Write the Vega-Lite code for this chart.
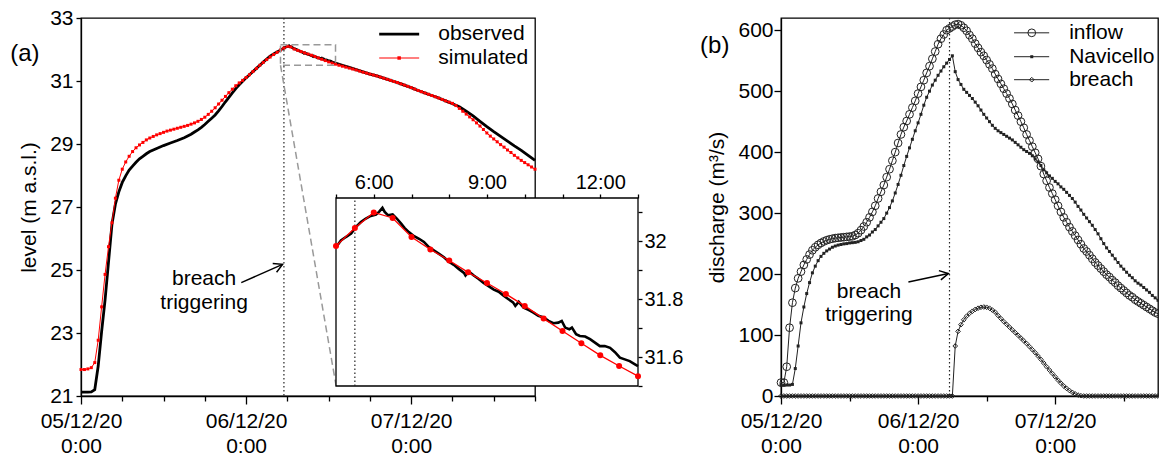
{
"$schema":"https://vega.github.io/schema/vega-lite/v6.json",
"padding":{"left":9,"top":6,"right":0,"bottom":0},
"background":"white",
"spacing":15,
"config":{
 "font":"Liberation Sans",
 "view":{"stroke":"black","strokeWidth":1.3},
 "axis":{"grid":false,"domainColor":"black","domainWidth":1.3,"tickColor":"black","tickWidth":1.3,"labelFont":"Liberation Sans","labelFontSize":21,"labelColor":"black","labelFlush":false,"labelOverlap":false,"labelBound":false,"titleFont":"Liberation Sans","titleFontSize":21,"titleFontWeight":"normal","titleColor":"black"},
 "text":{"font":"Liberation Sans","fontSize":21,"color":"black"}
},
"datasets":{
 "obs":[{"t":0,"v":21.12},{"t":1,"v":21.12},{"t":1.5,"v":21.13},{"t":2,"v":21.2},{"t":2.5,"v":21.95},{"t":3,"v":23.05},{"t":3.5,"v":24.05},{"t":4,"v":25.25},{"t":4.5,"v":26.45},{"t":5,"v":27.09},{"t":5.5,"v":27.48},{"t":6,"v":27.78},{"t":6.5,"v":27.99},{"t":7,"v":28.17},{"t":7.5,"v":28.3},{"t":8,"v":28.42},{"t":8.5,"v":28.53},{"t":9,"v":28.61},{"t":9.5,"v":28.69},{"t":10,"v":28.76},{"t":11,"v":28.86},{"t":12,"v":28.95},{"t":13,"v":29.03},{"t":14,"v":29.11},{"t":15,"v":29.2},{"t":16,"v":29.31},{"t":16.5,"v":29.38},{"t":17,"v":29.45},{"t":17.5,"v":29.53},{"t":18,"v":29.62},{"t":18.5,"v":29.72},{"t":19,"v":29.82},{"t":19.5,"v":29.92},{"t":20,"v":30.05},{"t":20.5,"v":30.19},{"t":21,"v":30.34},{"t":21.5,"v":30.48},{"t":22,"v":30.62},{"t":22.5,"v":30.76},{"t":23,"v":30.88},{"t":23.5,"v":30.99},{"t":24,"v":31.1},{"t":24.5,"v":31.2},{"t":25,"v":31.3},{"t":25.5,"v":31.4},{"t":26,"v":31.5},{"t":26.5,"v":31.6},{"t":27,"v":31.7},{"t":27.5,"v":31.79},{"t":28,"v":31.86},{"t":28.5,"v":31.92},
 {"t":29,"v":31.98},{"t":29.13,"v":32.003},{"t":29.26,"v":32.015},{"t":29.4,"v":32.027},{"t":29.53,"v":32.05},{"t":29.66,"v":32.067},{"t":29.79,"v":32.079},{"t":29.92,"v":32.088},{"t":30.06,"v":32.093},{"t":30.14,"v":32.102},{"t":30.23,"v":32.116},{"t":30.29,"v":32.102},{"t":30.38,"v":32.09},{"t":30.5,"v":32.093},{"t":30.61,"v":32.079},{"t":30.72,"v":32.062},{"t":30.82,"v":32.046},{"t":30.93,"v":32.032},{"t":31.07,"v":32.018},{"t":31.2,"v":32.009},{"t":31.33,"v":31.998},{"t":31.46,"v":31.98},{"t":31.59,"v":31.969},{"t":31.73,"v":31.957},{"t":31.86,"v":31.945},{"t":31.99,"v":31.93},{"t":32.12,"v":31.919},{"t":32.25,"v":31.905},{"t":32.39,"v":31.891},{"t":32.43,"v":31.882},{"t":32.52,"v":31.896},{"t":32.65,"v":31.882},{"t":32.78,"v":31.87},{"t":32.91,"v":31.856},{"t":33.04,"v":31.845},{"t":33.18,"v":31.833},{"t":33.31,"v":31.826},{"t":33.44,"v":31.812},{"t":33.57,"v":31.8},{"t":33.69,"v":31.789},{"t":33.75,"v":31.777},{"t":33.84,"v":31.791},{"t":33.97,"v":31.771},{"t":34.1,"v":31.763},{"t":34.23,"v":31.754},{"t":34.36,"v":31.743},{"t":34.5,"v":31.737},{"t":34.63,"v":31.725},{"t":34.76,"v":31.717},{"t":34.89,"v":31.719},{"t":34.98,"v":31.725},{"t":35.07,"v":31.702},{"t":35.18,"v":31.696},{"t":35.25,"v":31.702},{"t":35.36,"v":31.679},{"t":35.46,"v":31.673},{"t":35.6,"v":31.671},{"t":35.73,"v":31.662},{"t":35.86,"v":31.65},{"t":35.99,"v":31.638},{"t":36.12,"v":31.638},{"t":36.26,"v":31.632},{"t":36.39,"v":31.617},{"t":36.52,"v":31.598},{"t":36.65,"v":31.592},{"t":36.78,"v":31.586},{"t":36.92,"v":31.575},{"t":37,"v":31.569},
 {"t":38,"v":31.5},{"t":39,"v":31.43},{"t":40,"v":31.36},{"t":41,"v":31.29},{"t":42,"v":31.22},{"t":43,"v":31.16},{"t":44,"v":31.09},{"t":45,"v":31.02},{"t":46,"v":30.95},{"t":47,"v":30.87},{"t":48,"v":30.79},{"t":49,"v":30.7},{"t":50,"v":30.62},{"t":51,"v":30.54},{"t":52,"v":30.46},{"t":53,"v":30.37},{"t":54,"v":30.28},{"t":55,"v":30.18},{"t":56,"v":30.04},{"t":57,"v":29.89},{"t":58,"v":29.72},{"t":59,"v":29.55},{"t":60,"v":29.39},{"t":61,"v":29.24},{"t":62,"v":29.09},{"t":63,"v":28.94},{"t":64,"v":28.8},{"t":65,"v":28.64},{"t":66,"v":28.48}],
 "sim":[{"t":0,"v":21.84},{"t":0.5,"v":21.84},{"t":1,"v":21.86},{"t":1.5,"v":21.9},{"t":2,"v":22.06},{"t":2.5,"v":22.77},{"t":3,"v":23.83},{"t":3.5,"v":24.86},{"t":4,"v":25.74},{"t":4.5,"v":26.5},{"t":5,"v":27.28},{"t":5.5,"v":27.85},{"t":6,"v":28.2},{"t":6.5,"v":28.43},{"t":7,"v":28.61},{"t":7.5,"v":28.76},{"t":8,"v":28.88},{"t":8.5,"v":28.97},{"t":9,"v":29.05},{"t":9.5,"v":29.13},{"t":10,"v":29.19},{"t":10.5,"v":29.24},{"t":11,"v":29.29},{"t":11.5,"v":29.33},{"t":12,"v":29.37},{"t":12.5,"v":29.41},{"t":13,"v":29.44},{"t":13.5,"v":29.47},{"t":14,"v":29.5},{"t":14.5,"v":29.53},{"t":15,"v":29.56},{"t":15.5,"v":29.59},{"t":16,"v":29.63},{"t":16.5,"v":29.67},{"t":17,"v":29.72},{"t":17.5,"v":29.78},{"t":18,"v":29.85},{"t":18.5,"v":29.94},{"t":19,"v":30.04},{"t":19.5,"v":30.15},{"t":20,"v":30.27},{"t":20.5,"v":30.39},{"t":21,"v":30.51},{"t":21.5,"v":30.63},{"t":22,"v":30.74},{"t":22.5,"v":30.85},{"t":23,"v":30.94},{"t":23.5,"v":31.02},{"t":24,"v":31.11},{"t":24.5,"v":31.2},{"t":25,"v":31.3},{"t":25.5,"v":31.4},{"t":26,"v":31.5},{"t":26.5,"v":31.59},{"t":27,"v":31.68},{"t":27.5,"v":31.76},{"t":28,"v":31.84},{"t":28.5,"v":31.91},{"t":29,"v":31.984},{"t":29.5,"v":32.046},{"t":30,"v":32.1},{"t":30.5,"v":32.081},{"t":31,"v":32.015},{"t":31.5,"v":31.972},{"t":32,"v":31.934},{"t":32.5,"v":31.893},{"t":33,"v":31.856},{"t":33.5,"v":31.818},{"t":34,"v":31.777},{"t":34.5,"v":31.733},{"t":35,"v":31.69},{"t":35.5,"v":31.648},{"t":36,"v":31.606},{"t":36.5,"v":31.569},{"t":37,"v":31.534},{"t":37.5,"v":31.5},{"t":38,"v":31.47},{"t":38.5,"v":31.44},{"t":39,"v":31.41},{"t":39.5,"v":31.38},{"t":40,"v":31.35},{"t":40.5,"v":31.315},{"t":41,"v":31.28},{"t":41.5,"v":31.25},{"t":42,"v":31.22},{"t":42.5,"v":31.19},{"t":43,"v":31.16},{"t":43.5,"v":31.125},{"t":44,"v":31.09},{"t":44.5,"v":31.055},{"t":45,"v":31.02},{"t":45.5,"v":30.985},{"t":46,"v":30.95},{"t":46.5,"v":30.91},{"t":47,"v":30.87},{"t":47.5,"v":30.83},{"t":48,"v":30.79},{"t":48.5,"v":30.745},{"t":49,"v":30.7},{"t":49.5,"v":30.66},{"t":50,"v":30.62},{"t":50.5,"v":30.58},{"t":51,"v":30.54},{"t":51.5,"v":30.5},{"t":52,"v":30.46},{"t":52.5,"v":30.415},{"t":53,"v":30.37},{"t":53.5,"v":30.33},{"t":54,"v":30.29},{"t":54.5,"v":30.22},{"t":55,"v":30.13},{"t":55.5,"v":30.04},{"t":56,"v":29.95},{"t":56.5,"v":29.86},{"t":57,"v":29.77},{"t":57.5,"v":29.67},{"t":58,"v":29.57},{"t":58.5,"v":29.46},{"t":59,"v":29.35},{"t":59.5,"v":29.25},{"t":60,"v":29.16},{"t":60.5,"v":29.07},{"t":61,"v":28.98},{"t":61.5,"v":28.9},{"t":62,"v":28.81},{"t":62.5,"v":28.73},{"t":63,"v":28.64},{"t":63.5,"v":28.56},{"t":64,"v":28.48},{"t":64.5,"v":28.41},{"t":65,"v":28.34},{"t":65.5,"v":28.27},{"t":66,"v":28.2}],
 "dis":[{"t":0,"i":22,"n":18,"b":0},{"t":0.5,"i":22,"n":18,"b":0},{"t":1,"i":48,"n":18,"b":0},{"t":1.5,"i":112,"n":18,"b":0},{"t":2,"i":153,"n":19,"b":0},{"t":2.5,"i":177,"n":45,"b":0},{"t":3,"i":193,"n":82,"b":0},{"t":3.5,"i":204,"n":120,"b":0},{"t":4,"i":215,"n":146,"b":0},{"t":4.5,"i":224,"n":168,"b":0},{"t":5,"i":232,"n":186,"b":0},{"t":5.5,"i":239,"n":202,"b":0},{"t":6,"i":244,"n":213,"b":0},{"t":6.5,"i":248,"n":222,"b":0},{"t":7,"i":251,"n":229,"b":0},{"t":7.5,"i":253.5,"n":234,"b":0},{"t":8,"i":255.5,"n":238,"b":0},{"t":8.5,"i":257,"n":241,"b":0},{"t":9,"i":258,"n":244,"b":0},{"t":9.5,"i":259,"n":246,"b":0},{"t":10,"i":259.5,"n":247.5,"b":0},{"t":10.5,"i":260,"n":248.5,"b":0},{"t":11,"i":260.5,"n":249.5,"b":0},{"t":11.5,"i":261,"n":250,"b":0},{"t":12,"i":261.5,"n":251,"b":0},{"t":12.5,"i":262,"n":251.5,"b":0},{"t":13,"i":264,"n":252,"b":0},{"t":13.5,"i":267,"n":253,"b":0},{"t":14,"i":272,"n":255,"b":0},{"t":14.5,"i":278,"n":257,"b":0},{"t":15,"i":285,"n":261,"b":0},{"t":15.5,"i":293,"n":264,"b":0},{"t":16,"i":302,"n":269,"b":0},{"t":16.5,"i":312,"n":273,"b":0},{"t":17,"i":324,"n":279,"b":0},{"t":17.5,"i":335,"n":285,"b":0},{"t":18,"i":346,"n":291,"b":0},{"t":18.5,"i":359,"n":300,"b":0},{"t":19,"i":372,"n":309,"b":0},{"t":19.5,"i":386,"n":320,"b":0},{"t":20,"i":400,"n":333,"b":0},{"t":20.5,"i":415,"n":347,"b":0},{"t":21,"i":429,"n":362,"b":0},{"t":21.5,"i":441,"n":378,"b":0},{"t":22,"i":451,"n":393,"b":0},{"t":22.5,"i":462,"n":407,"b":0},{"t":23,"i":473,"n":421,"b":0},{"t":23.5,"i":484,"n":435,"b":0},{"t":24,"i":496,"n":448,"b":0},{"t":24.5,"i":507,"n":462,"b":0},{"t":25,"i":518,"n":477,"b":0},{"t":25.5,"i":530,"n":490,"b":0},{"t":26,"i":541,"n":500,"b":0},{"t":26.5,"i":553,"n":510,"b":0},{"t":27,"i":565,"n":518,"b":0},{"t":27.5,"i":577,"n":526,"b":0},{"t":28,"i":586,"n":533,"b":0},{"t":28.5,"i":593,"n":540,"b":0},{"t":29,"i":600,"n":546,"b":0},{"t":29.5,"i":603,"n":552,"b":0},{"t":30,"i":606,"n":558,"b":0},{"t":30.5,"i":609,"n":532,"b":82},{"t":31,"i":610,"n":519,"b":106},{"t":31.5,"i":608,"n":511,"b":117},{"t":32,"i":604,"n":503,"b":125},{"t":32.5,"i":599,"n":498,"b":131},{"t":33,"i":592,"n":493,"b":135.5},{"t":33.5,"i":586,"n":488,"b":139},{"t":34,"i":578,"n":482,"b":142},{"t":34.5,"i":571,"n":476,"b":144},{"t":35,"i":564,"n":469,"b":145.5},{"t":35.5,"i":558,"n":462,"b":146},{"t":36,"i":551,"n":456,"b":145.5},{"t":36.5,"i":544,"n":450,"b":144},{"t":37,"i":537,"n":444,"b":141},{"t":37.5,"i":528,"n":439,"b":137.5},{"t":38,"i":520,"n":435,"b":132},{"t":38.5,"i":512,"n":432,"b":127},{"t":39,"i":504,"n":429,"b":122},{"t":39.5,"i":496,"n":426,"b":117.5},{"t":40,"i":488,"n":423,"b":113},{"t":40.5,"i":479,"n":420,"b":108.5},{"t":41,"i":469,"n":416,"b":104},{"t":41.5,"i":460,"n":412,"b":99.5},{"t":42,"i":450,"n":408,"b":95},{"t":42.5,"i":440,"n":404,"b":90.5},{"t":43,"i":429,"n":401,"b":86},{"t":43.5,"i":419,"n":398,"b":81},{"t":44,"i":409,"n":394,"b":76},{"t":44.5,"i":399,"n":389,"b":71},{"t":45,"i":389,"n":384,"b":65.5},{"t":45.5,"i":377,"n":378,"b":60},{"t":46,"i":364,"n":371,"b":54},{"t":46.5,"i":353,"n":366,"b":48},{"t":47,"i":342,"n":361,"b":42.5},{"t":47.5,"i":332,"n":357,"b":37},{"t":48,"i":322,"n":352,"b":31.5},{"t":48.5,"i":312,"n":348,"b":26},{"t":49,"i":302,"n":343,"b":21},{"t":49.5,"i":293,"n":339,"b":16.5},{"t":50,"i":285,"n":334,"b":12.5},{"t":50.5,"i":277,"n":329,"b":9},{"t":51,"i":270,"n":324,"b":6},{"t":51.5,"i":263,"n":318,"b":3.5},{"t":52,"i":256,"n":311,"b":1.5},{"t":52.5,"i":249,"n":305,"b":0.5},{"t":53,"i":242,"n":298,"b":0},{"t":53.5,"i":237,"n":292,"b":0},{"t":54,"i":231,"n":286,"b":0},{"t":54.5,"i":225,"n":280,"b":0},{"t":55,"i":219,"n":273,"b":0},{"t":55.5,"i":214,"n":266,"b":0},{"t":56,"i":209,"n":258,"b":0},{"t":56.5,"i":204,"n":250,"b":0},{"t":57,"i":199,"n":243,"b":0},{"t":57.5,"i":195,"n":237,"b":0},{"t":58,"i":190,"n":231,"b":0},{"t":58.5,"i":186,"n":225,"b":0},{"t":59,"i":181,"n":219,"b":0},{"t":59.5,"i":177,"n":213,"b":0},{"t":60,"i":173,"n":208,"b":0},{"t":60.5,"i":169,"n":203,"b":0},{"t":61,"i":165,"n":198,"b":0},{"t":61.5,"i":162,"n":194,"b":0},{"t":62,"i":158,"n":189,"b":0},{"t":62.5,"i":155,"n":185,"b":0},{"t":63,"i":152,"n":182,"b":0},{"t":63.5,"i":149,"n":178,"b":0},{"t":64,"i":146,"n":174,"b":0},{"t":64.5,"i":143,"n":170,"b":0},{"t":65,"i":140,"n":165,"b":0},{"t":65.5,"i":137,"n":161,"b":0},{"t":66,"i":135,"n":157,"b":0}],
 "legA":[{"k":"observed","t1":43.35,"t2":49.16,"tm":46.25,"tx":51.93,"v":32.49},{"k":"simulated","t1":43.35,"t2":49.16,"tm":46.25,"tx":51.93,"v":31.73}],
 "legB":[{"k":"inflow","t1":40.8,"t2":46.95,"tm":43.9,"tx":50.45,"v":595.7},{"k":"Navicello","t1":40.8,"t2":46.95,"tm":43.9,"tx":50.45,"v":556.5},{"k":"breach","t1":40.8,"t2":46.95,"tm":43.9,"tx":50.45,"v":518.8}],
 "annA":[{"label":"breach\ntriggering","t":17.9,"v":24.71,"t1":23.3,"v1":24.6,"t2":29.3,"v2":25.18}],
 "annB":[{"label":"breach\ntriggering","t":15.4,"v":170.7,"t1":22.3,"v1":187,"t2":29.3,"v2":201}],
 "zoom":[{"t1":29,"t2":37,"v1":31.5,"v2":32.15}],
 "conn":[{"t1":29,"v1":31.5,"t2":37.09,"v2":21.32}],
 "trig":[{"t":29.5,"v1":31.5,"v2":32.15}]
},
"hconcat":[
 {
  "width":454,"height":378,
  "layer":[
   {"layer":[
     {"data":{"name":"trig"},"mark":{"type":"rule","strokeDash":[1.5,2.5],"color":"#222","strokeWidth":1.2},
      "encoding":{"x":{"field":"t","type":"quantitative","scale":{"domain":[0,66],"nice":false,"zero":false},
        "axis":{"values":[0,6,12,18,24,30,36,42,48,54,60,66],"labelExpr":"datum.value == 0 ? ['05/12/20','0:00'] : datum.value == 24 ? ['06/12/20','0:00'] : datum.value == 48 ? ['07/12/20','0:00'] : ''","tickSize":{"condition":{"test":"datum.value % 24 == 0","value":8},"value":5},"labelPadding":6,"labelLineHeight":25,"title":null}}}},
     {"data":{"name":"obs"},"mark":{"type":"line","color":"black","strokeWidth":2.8},
      "encoding":{"x":{"field":"t","type":"quantitative"},
       "y":{"field":"v","type":"quantitative","scale":{"domain":[21,33],"nice":false,"zero":false},
        "axis":{"values":[21,21.5,22,22.5,23,23.5,24,24.5,25,25.5,26,26.5,27,27.5,28,28.5,29,29.5,30,30.5,31,31.5,32,32.5,33],"labelExpr":"datum.value % 2 == 1 ? datum.label : ''","tickSize":{"condition":{"test":"datum.value % 2 == 1","value":5},"value":3},"labelPadding":3,"title":"level (m a.s.l.)","titlePadding":10}}}},
     {"data":{"name":"sim"},"mark":{"type":"line","color":"red","strokeWidth":1,"point":{"shape":"square","filled":true,"size":9,"color":"red"}},
      "encoding":{"x":{"field":"t","type":"quantitative"},"y":{"field":"v","type":"quantitative"}}},
     {"data":{"name":"zoom"},"mark":{"type":"rect","fillOpacity":0,"stroke":"#999","strokeWidth":1.5,"strokeDash":[7,4]},
      "encoding":{"x":{"field":"t1","type":"quantitative"},"x2":{"field":"t2"},"y":{"field":"v1","type":"quantitative"},"y2":{"field":"v2"}}},
     {"data":{"name":"conn"},"mark":{"type":"rule","color":"#999","strokeWidth":1.5,"strokeDash":[7,4]},
      "encoding":{"x":{"field":"t1","type":"quantitative"},"x2":{"field":"t2"},"y":{"field":"v1","type":"quantitative"},"y2":{"field":"v2"}}},
     {"data":{"name":"annA"},"mark":{"type":"text","lineBreak":"\n","lineHeight":24,"align":"center","baseline":"middle","fontSize":21},
      "encoding":{"x":{"field":"t","type":"quantitative"},"y":{"field":"v","type":"quantitative"},"text":{"field":"label"}}},
     {"data":{"name":"annA"},"mark":{"type":"rule","color":"black","strokeWidth":1.5},
      "encoding":{"x":{"field":"t1","type":"quantitative"},"x2":{"field":"t2"},"y":{"field":"v1","type":"quantitative"},"y2":{"field":"v2"}}},
     {"data":{"name":"annA"},"mark":{"type":"point","shape":"M -1 -0.55 L 0 0 L -1 0.55","size":300,"filled":false,"stroke":"black","strokeWidth":1.5,"angle":-24,"opacity":1},
      "encoding":{"x":{"field":"t2","type":"quantitative"},"y":{"field":"v2","type":"quantitative"}}},
     {"data":{"name":"legA"},"transform":[{"filter":"datum.k == 'observed'"}],"mark":{"type":"rule","color":"black","strokeWidth":2.8},
      "encoding":{"x":{"field":"t1","type":"quantitative"},"x2":{"field":"t2"},"y":{"field":"v","type":"quantitative"}}},
     {"data":{"name":"legA"},"transform":[{"filter":"datum.k == 'simulated'"}],"mark":{"type":"rule","color":"red","strokeWidth":1.2},
      "encoding":{"x":{"field":"t1","type":"quantitative"},"x2":{"field":"t2"},"y":{"field":"v","type":"quantitative"}}},
     {"data":{"name":"legA"},"transform":[{"filter":"datum.k == 'simulated'"}],"mark":{"type":"point","shape":"square","filled":true,"size":12,"color":"red","opacity":1},
      "encoding":{"x":{"field":"tm","type":"quantitative"},"y":{"field":"v","type":"quantitative"}}},
     {"data":{"name":"legA"},"mark":{"type":"text","align":"left","baseline":"middle","fontSize":21},
      "encoding":{"x":{"field":"tx","type":"quantitative"},"y":{"field":"v","type":"quantitative"},"text":{"field":"k"}}},
     {"data":{"values":[{"label":"(a)","t":-8.15,"v":31.86}]},"mark":{"type":"text","align":"center","baseline":"middle","fontSize":24},
      "encoding":{"x":{"field":"t","type":"quantitative"},"y":{"field":"v","type":"quantitative"},"text":{"field":"label"}}}
   ]},
   {"layer":[
     {"data":{"name":"zoom"},"mark":{"type":"rect","fill":"white","stroke":"black","strokeWidth":1.3},
      "encoding":{"x":{"field":"t1","type":"quantitative","scale":{"domain":[29,37],"range":[255,557],"nice":false,"zero":false},
        "axis":{"orient":"top","offset":-180,"values":[29,30,31,32,33,34,35,36,37],"labelExpr":"datum.value == 30 ? '6:00' : datum.value == 33 ? '9:00' : datum.value == 36 ? '12:00' : ''","tickSize":4,"labelPadding":2,"labelFontSize":20,"domain":false,"title":null,"zindex":1}},
       "x2":{"field":"t2"},
       "y":{"field":"v1","type":"quantitative","scale":{"domain":[31.5,32.15],"range":[368,180],"nice":false,"zero":false},
        "axis":{"orient":"right","offset":103,"values":[31.5,31.6,31.7,31.8,31.9,32,32.1],"labelExpr":"abs(datum.value-32) < 0.01 ? '32' : abs(datum.value-31.8) < 0.01 ? '31.8' : abs(datum.value-31.6) < 0.01 ? '31.6' : ''","tickSize":4,"labelPadding":2,"labelFontSize":20,"domain":false,"title":null,"zindex":1}},
       "y2":{"field":"v2"}}},
     {"data":{"name":"trig"},"mark":{"type":"rule","strokeDash":[1.5,2.5],"color":"#222","strokeWidth":1.2},
      "encoding":{"x":{"field":"t","type":"quantitative"},"y":{"field":"v1","type":"quantitative"},"y2":{"field":"v2"}}},
     {"data":{"name":"obs"},"transform":[{"filter":"datum.t >= 29 && datum.t <= 37"}],"mark":{"type":"line","color":"black","strokeWidth":2.6},
      "encoding":{"x":{"field":"t","type":"quantitative"},"y":{"field":"v","type":"quantitative"}}},
     {"data":{"name":"sim"},"transform":[{"filter":"datum.t >= 29 && datum.t <= 37"}],"mark":{"type":"line","color":"red","strokeWidth":1.3,"point":{"filled":true,"size":36,"color":"red"}},
      "encoding":{"x":{"field":"t","type":"quantitative"},"y":{"field":"v","type":"quantitative"}}}
   ]}
  ],
  "resolve":{"scale":{"x":"independent","y":"independent"}}
 },
 {
  "width":377,"height":378,
  "layer":[
   {"data":{"name":"trig"},"mark":{"type":"rule","strokeDash":[1.5,2.5],"color":"#222","strokeWidth":1.2},
    "encoding":{"x":{"field":"t","type":"quantitative","scale":{"domain":[0,66],"nice":false,"zero":false},
      "axis":{"values":[0,6,12,18,24,30,36,42,48,54,60,66],"labelExpr":"datum.value == 0 ? ['05/12/20','0:00'] : datum.value == 24 ? ['06/12/20','0:00'] : datum.value == 48 ? ['07/12/20','0:00'] : ''","tickSize":{"condition":{"test":"datum.value % 24 == 0","value":8},"value":5},"labelPadding":6,"labelLineHeight":25,"title":null}}}},
   {"data":{"name":"dis"},"mark":{"type":"line","color":"#222","strokeWidth":1,"point":{"shape":"circle","filled":false,"size":60,"strokeWidth":1,"color":"#222"}},
    "encoding":{"x":{"field":"t","type":"quantitative"},
     "y":{"field":"i","type":"quantitative","scale":{"domain":[0,620],"nice":false,"zero":false},
      "axis":{"values":[0,50,100,150,200,250,300,350,400,450,500,550,600],"labelExpr":"datum.value % 100 == 0 ? datum.label : ''","tickSize":{"condition":{"test":"datum.value % 100 == 0","value":7},"value":3.5},"labelPadding":1,"title":"discharge (m³/s)","titlePadding":10}}}},
   {"data":{"name":"dis"},"mark":{"type":"line","color":"#222","strokeWidth":1,"point":{"shape":"square","filled":true,"size":9,"color":"#222"}},
    "encoding":{"x":{"field":"t","type":"quantitative"},"y":{"field":"n","type":"quantitative"}}},
   {"data":{"name":"dis"},"mark":{"type":"line","color":"#222","strokeWidth":1,"point":{"shape":"diamond","filled":false,"size":22,"strokeWidth":1,"color":"#222"}},
    "encoding":{"x":{"field":"t","type":"quantitative"},"y":{"field":"b","type":"quantitative"}}},
   {"data":{"name":"annB"},"mark":{"type":"text","lineBreak":"\n","lineHeight":23,"align":"center","baseline":"middle","fontSize":21},
    "encoding":{"x":{"field":"t","type":"quantitative"},"y":{"field":"v","type":"quantitative"},"text":{"field":"label"}}},
   {"data":{"name":"annB"},"mark":{"type":"rule","color":"black","strokeWidth":1.5},
    "encoding":{"x":{"field":"t1","type":"quantitative"},"x2":{"field":"t2"},"y":{"field":"v1","type":"quantitative"},"y2":{"field":"v2"}}},
   {"data":{"name":"annB"},"mark":{"type":"point","shape":"M -1 -0.55 L 0 0 L -1 0.55","size":300,"filled":false,"stroke":"black","strokeWidth":1.5,"angle":-12,"opacity":1},
    "encoding":{"x":{"field":"t2","type":"quantitative"},"y":{"field":"v2","type":"quantitative"}}},
   {"data":{"name":"legB"},"mark":{"type":"rule","color":"#222","strokeWidth":1},
    "encoding":{"x":{"field":"t1","type":"quantitative"},"x2":{"field":"t2"},"y":{"field":"v","type":"quantitative"}}},
   {"data":{"name":"legB"},"transform":[{"filter":"datum.k == 'inflow'"}],"mark":{"type":"point","shape":"circle","filled":false,"size":60,"strokeWidth":1,"color":"#222","opacity":1},
    "encoding":{"x":{"field":"tm","type":"quantitative"},"y":{"field":"v","type":"quantitative"}}},
   {"data":{"name":"legB"},"transform":[{"filter":"datum.k == 'Navicello'"}],"mark":{"type":"point","shape":"square","filled":true,"size":9,"color":"#222","opacity":1},
    "encoding":{"x":{"field":"tm","type":"quantitative"},"y":{"field":"v","type":"quantitative"}}},
   {"data":{"name":"legB"},"transform":[{"filter":"datum.k == 'breach'"}],"mark":{"type":"point","shape":"diamond","filled":false,"size":22,"strokeWidth":1,"color":"#222","opacity":1},
    "encoding":{"x":{"field":"tm","type":"quantitative"},"y":{"field":"v","type":"quantitative"}}},
   {"data":{"name":"legB"},"mark":{"type":"text","align":"left","baseline":"middle","fontSize":21},
    "encoding":{"x":{"field":"tx","type":"quantitative"},"y":{"field":"v","type":"quantitative"},"text":{"field":"k"}}},
   {"data":{"values":[{"label":"(b)","t":-11.6,"v":574}]},"mark":{"type":"text","align":"center","baseline":"middle","fontSize":24},
    "encoding":{"x":{"field":"t","type":"quantitative"},"y":{"field":"v","type":"quantitative"},"text":{"field":"label"}}}
  ]
 }
]
}
